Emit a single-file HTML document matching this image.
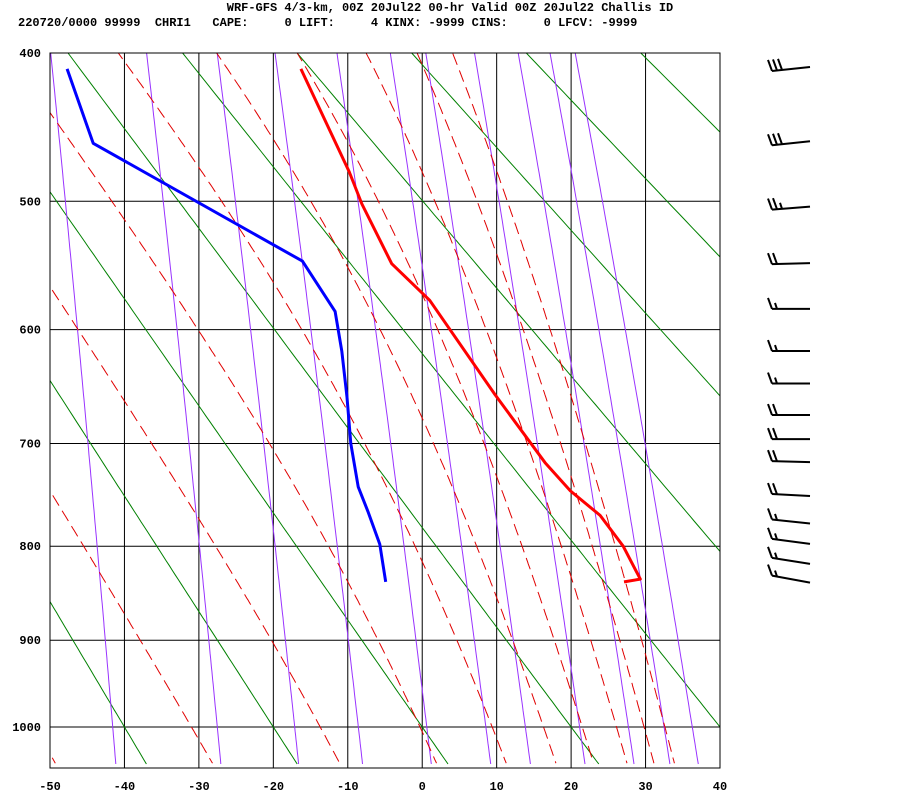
<!DOCTYPE html>
<html><head><meta charset="utf-8"><title>Stuve sounding</title>
<style>
html,body{margin:0;padding:0;background:#fff;}
svg{display:block;font-family:"Liberation Mono",monospace;}
</style></head>
<body>
<svg id="chart" width="900" height="800" viewBox="0 0 900 800" xmlns="http://www.w3.org/2000/svg">
<defs><clipPath id="plotclip"><rect x="50" y="53" width="670" height="715"/></clipPath></defs>
<rect width="900" height="800" fill="#fff"/>
<text x="450" y="11" text-anchor="middle" font-size="12" font-weight="bold">WRF-GFS 4/3-km, 00Z 20Jul22 00-hr Valid 00Z 20Jul22 Challis ID</text>
<text x="18" y="26" font-size="12" font-weight="bold" xml:space="preserve">220720/0000 99999  CHRI1   CAPE:     0 LIFT:     4 KINX: -9999 CINS:     0 LFCV: -9999</text>
<g id="grid"></g>
<g id="lines" clip-path="url(#plotclip)"></g>
<g id="profiles" clip-path="url(#plotclip)"></g>
<rect x="50" y="53" width="670" height="715" fill="none" stroke="#000" stroke-width="1"/>
<g id="axes"></g>
<g id="barbs"></g>
</svg>
<script>
const tempTicks=[-50,-40,-30,-20,-10,0,10,20,30,40];
const presTicks=[400,500,600,700,800,900,1000];
const thetaLines=[-60,-40,-20,0,20,40,60,80,100,120,140,160,180,200];
const moistStart=[-52,-31,-13.7,-0.3,9.4,16.3,21.5,26.1,29.8,32.6];
const mixRatios=[0.1,0.4,1,2,4,7,10,16,24,32,40];
const tempP=[410,479,502,547,576,656,718,745,769,800,834,837];
const tempT=[-16.3,-9.8,-8.1,-4.1,1.0,9.8,16.5,19.9,23.9,27.0,29.3,27.1];
const dewP=[410,459,545,585,618,658,700,741,765,798,837];
const dewT=[-47.7,-44.2,-16.1,-11.7,-10.8,-10.1,-9.6,-8.6,-7.3,-5.7,-4.9];
const windP=[410,459,505,547,583,618,646,674,696,717,749,775,795,815,834];
const windFull=[3,3,2,2,1,1,1,2,2,2,2,1,1,1,1];
const windHalf=[0,0,1,0,1,1,1,0,0,0,0,1,1,1,1];
const windTilt=[-4,-4,-3,-1,0,0,0,0,0,1,2,4,5,6,7];

const NS="http://www.w3.org/2000/svg";
const K=0.286, PTOP=400, PBOT=1000, YTOP=53, YBOT=727;
const kscale=(YBOT-YTOP)/(Math.pow(PBOT,K)-Math.pow(PTOP,K));
function X(t){return 50+(t+50)*670/90;}
function Y(p){return YTOP+(Math.pow(p,K)-Math.pow(PTOP,K))*kscale;}
function mk(tag,attrs,parent){const e=document.createElementNS(NS,tag);for(const a in attrs)e.setAttribute(a,attrs[a]);parent.appendChild(e);return e;}
const grid=document.getElementById('grid'),lines=document.getElementById('lines'),prof=document.getElementById('profiles'),axes=document.getElementById('axes'),barbs=document.getElementById('barbs');
const PMAX=1045;

tempTicks.forEach(t=>{
  const l=mk('line',{x1:X(t),x2:X(t),y1:53,y2:768,stroke:'#000','stroke-width':1},grid);
  
  
  const tx=mk('text',{x:X(t),y:790,'text-anchor':'middle','font-size':12,'font-weight':'bold'},axes);
  tx.textContent=t;
  
  
});
presTicks.forEach(p=>{
  const l=mk('line',{x1:50,x2:720,y1:Y(p),y2:Y(p),stroke:'#000','stroke-width':1},grid);
  
  
  const tx=mk('text',{x:41,y:Y(p)+4,'text-anchor':'end','font-size':12,'font-weight':'bold'},axes);
  tx.textContent=p;
  
  
});

thetaLines.forEach(th=>{
  const pts=[];
  for(let p=380;p<=PMAX;p+=5){const T=(th+273.15)*Math.pow(p/1000,K)-273.15;pts.push(X(T).toFixed(1)+','+Y(p).toFixed(1));}
  const e=mk('polyline',{points:pts.join(' '),fill:'none',stroke:'#008000','stroke-width':1},lines);
  
  
});
mixRatios.forEach(w=>{
  const pts=[];
  for(let p=380;p<=PMAX;p+=5){const e=w*p/(622+w);const L=Math.log(e/6.112);const Td=243.5*L/(17.67-L);pts.push(X(Td).toFixed(1)+','+Y(p).toFixed(1));}
  const el=mk('polyline',{points:pts.join(' '),fill:'none',stroke:'#9933ff','stroke-width':1},lines);
  
  
});
function dTdp(p,T){const Tk=T+273.15;const es=6.112*Math.exp(17.67*T/(T+243.5));const rs=0.622*es/(p-es);const Lv=2.5e6,Rd=287,cp=1005,eps=0.622;return (1/p)*(Rd*Tk+Lv*rs)/(cp+Lv*Lv*rs*eps/(Rd*Tk*Tk));}
moistStart.forEach(t0=>{
  const up=[],dn=[];let T=t0;
  for(let p=1000;p>=380;p-=2){up.push([p,T]);const k1=dTdp(p,T),k2=dTdp(p-1,T-k1);T-=k2*2;}
  T=t0;
  for(let p=1000;p<=PMAX;p+=2){dn.push([p,T]);const k1=dTdp(p,T),k2=dTdp(p+1,T+k1);T+=k2*2;}
  const all=up.reverse().concat(dn.slice(1));
  const el=mk('polyline',{points:all.map(a=>X(a[1]).toFixed(1)+','+Y(a[0]).toFixed(1)).join(' '),fill:'none',stroke:'#e00000','stroke-width':1,'stroke-dasharray':'12,6'},lines);
  
  
});
const tl=mk('polyline',{points:tempP.map((p,i)=>X(tempT[i]).toFixed(1)+','+Y(p).toFixed(1)).join(' '),fill:'none',stroke:'#ff0000','stroke-width':3,'stroke-linejoin':'round'},prof);


const dl=mk('polyline',{points:dewP.map((p,i)=>X(dewT[i]).toFixed(1)+','+Y(p).toFixed(1)).join(' '),fill:'none',stroke:'#0000ff','stroke-width':3,'stroke-linejoin':'round'},prof);


windP.forEach((p,i)=>{
  const y=Y(p), x0=772, x1=810, tilt=windTilt[i];
  const yl=y-tilt/2, yr=y+tilt/2;
  const g=mk('g',{},barbs);
  
  
  mk('line',{x1:x0,y1:yl,x2:x1,y2:yr,stroke:'#000','stroke-width':2},g);
  const slope=(yr-yl)/(x1-x0);
  let k=0;
  for(let f=0;f<windFull[i];f++,k++){const bx=x0+k*5,by=yl+slope*k*5;mk('line',{x1:bx,y1:by,x2:bx-4,y2:by-11,stroke:'#000','stroke-width':2},g);}
  for(let h=0;h<windHalf[i];h++,k++){const bx=x0+k*5,by=yl+slope*k*5;mk('line',{x1:bx,y1:by,x2:bx-2,y2:by-6,stroke:'#000','stroke-width':2},g);}
});
</script>
</body></html>
